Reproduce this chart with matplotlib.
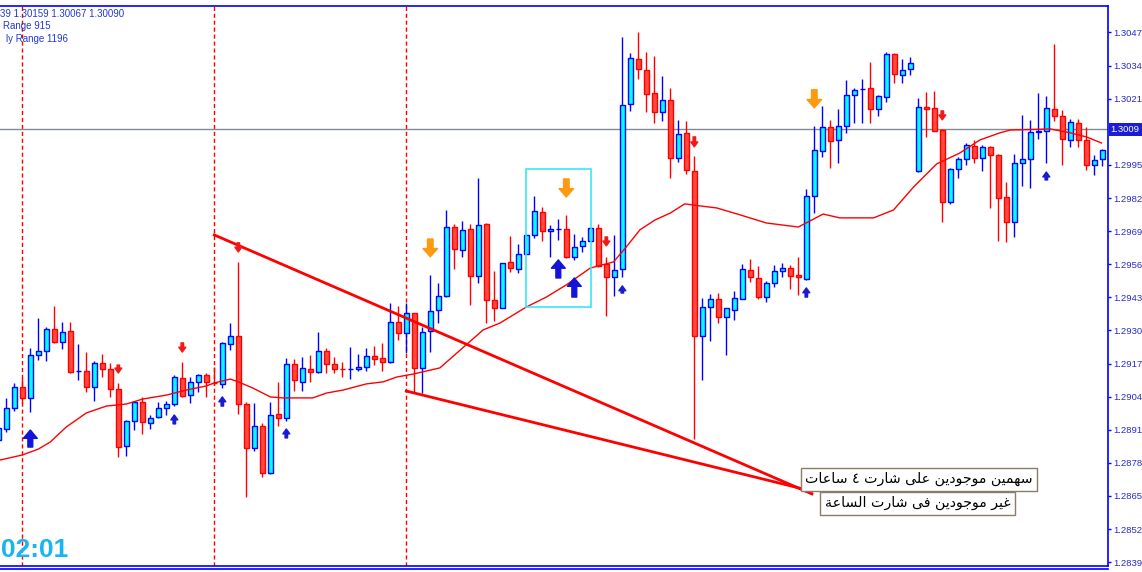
import numpy as np
import matplotlib
matplotlib.use('Agg')
import matplotlib.pyplot as plt
from matplotlib.patches import Rectangle
from matplotlib.lines import Line2D
from matplotlib.transforms import blended_transform_factory

# H1 candles, bar index -1 .. 137
bar_idx = list(range(-1, 138))
opens = [1.28870, 1.28913, 1.28995, 1.29078, 1.29035, 1.29204, 1.29219, 1.29306, 1.29255, 1.29298,
         1.29140, 1.29141, 1.29078, 1.29172, 1.29149, 1.29070, 1.28846, 1.28944, 1.29019, 1.28937,
         1.28960, 1.28995, 1.29011, 1.29113, 1.29046, 1.29098, 1.29125, 1.29094, 1.29090, 1.29247,
         1.29278, 1.29011, 1.28838, 1.28925, 1.28740, 1.28972, 1.28956, 1.29168, 1.29098, 1.29149,
         1.29137, 1.29219, 1.29168, 1.29149, 1.29147, 1.29149, 1.29156, 1.29200, 1.29192, 1.29176,
         1.29333, 1.29290, 1.29369, 1.29153, 1.29298, 1.29380, 1.29435, 1.29706, 1.29616, 1.29699,
         1.29514, 1.29718, 1.29420, 1.29388, 1.29569, 1.29541, 1.29600, 1.29675, 1.29765, 1.29691,
         1.29698, 1.29699, 1.29589, 1.29632, 1.29651, 1.29702, 1.29561, 1.29510, 1.29541, 1.30190,
         1.30366, 1.30323, 1.30233, 1.30158, 1.30205, 1.29977, 1.30076, 1.29926, 1.29278, 1.29392,
         1.29424, 1.29353, 1.29380, 1.29424, 1.29537, 1.29506, 1.29431, 1.29486, 1.29534, 1.29545,
         1.29518, 1.29502, 1.29828, 1.30005, 1.30099, 1.30048, 1.30103, 1.30225, 1.30247, 1.30252,
         1.30170, 1.30217, 1.30386, 1.30303, 1.30327, 1.29926, 1.30178, 1.30174, 1.30087, 1.29805,
         1.29934, 1.29973, 1.30025, 1.29977, 1.30021, 1.29989, 1.29824, 1.29726, 1.29958, 1.29973,
         1.30081, 1.30083, 1.30170, 1.30142, 1.30048, 1.30115, 1.30048, 1.29950, 1.29973]
highs = [1.28929, 1.29035, 1.29094, 1.29113, 1.29231, 1.29349, 1.29314, 1.29396, 1.29333, 1.29333,
         1.29247, 1.29215, 1.29180, 1.29208, 1.29172, 1.29094, 1.28948, 1.29023, 1.29039, 1.28968,
         1.29019, 1.29023, 1.29125, 1.29176, 1.29117, 1.29129, 1.29133, 1.29156, 1.29253, 1.29329,
         1.29569, 1.29019, 1.29015, 1.28937, 1.29019, 1.29098, 1.29192, 1.29188, 1.29196, 1.29204,
         1.29294, 1.29231, 1.29196, 1.29176, 1.29235, 1.29208, 1.29231, 1.29239, 1.29251, 1.29408,
         1.29396, 1.29408, 1.29370, 1.29314, 1.29518, 1.29486, 1.29773, 1.29718, 1.29730, 1.29718,
         1.29899, 1.29722, 1.29534, 1.29565, 1.29671, 1.29640, 1.29675, 1.29828, 1.29785, 1.29714,
         1.29738, 1.29754, 1.29679, 1.29667, 1.29702, 1.29718, 1.29589, 1.29675, 1.30453, 1.30390,
         1.30472, 1.30394, 1.30378, 1.30300, 1.30252, 1.30127, 1.30123, 1.29985, 1.29428, 1.29443,
         1.29447, 1.29388, 1.29455, 1.29561, 1.29581, 1.29553, 1.29494, 1.29557, 1.29565, 1.29557,
         1.29589, 1.29856, 1.30103, 1.30182, 1.30127, 1.30170, 1.30284, 1.30252, 1.30288, 1.30354,
         1.30225, 1.30394, 1.30390, 1.30366, 1.30374, 1.30213, 1.30237, 1.30241, 1.30091, 1.29938,
         1.29981, 1.30036, 1.30048, 1.30028, 1.30023, 1.29991, 1.29883, 1.29993, 1.30146, 1.30127,
         1.30233, 1.30221, 1.30425, 1.30166, 1.30131, 1.30131, 1.30099, 1.29989, 1.30013]
lows = [1.28862, 1.28901, 1.28984, 1.29015, 1.28980, 1.29184, 1.29180, 1.29251, 1.29227, 1.29133,
        1.29105, 1.29058, 1.29023, 1.29117, 1.29039, 1.28803, 1.28807, 1.28909, 1.28893, 1.28913,
        1.28956, 1.28968, 1.29003, 1.29039, 1.29015, 1.29058, 1.29039, 1.29086, 1.29074, 1.29223,
        1.28972, 1.28646, 1.28827, 1.28724, 1.28738, 1.28925, 1.28944, 1.29062, 1.29062, 1.29098,
        1.29133, 1.29133, 1.29133, 1.29117, 1.29109, 1.29141, 1.29141, 1.29164, 1.29141, 1.29172,
        1.29262, 1.29211, 1.29058, 1.29054, 1.29215, 1.29329, 1.29433, 1.29541, 1.29589, 1.29400,
        1.29486, 1.29329, 1.29337, 1.29388, 1.29530, 1.29526, 1.29600, 1.29663, 1.29651, 1.29589,
        1.29655, 1.29585, 1.29577, 1.29608, 1.29651, 1.29549, 1.29357, 1.29435, 1.29510, 1.30162,
        1.30288, 1.30158, 1.30115, 1.30123, 1.29899, 1.29962, 1.29915, 1.28874, 1.29105, 1.29259,
        1.29329, 1.29204, 1.29341, 1.29424, 1.29490, 1.29424, 1.29412, 1.29471, 1.29510, 1.29463,
        1.29439, 1.29500, 1.29761, 1.29981, 1.29938, 1.29958, 1.30076, 1.30115, 1.30115, 1.30115,
        1.30142, 1.30197, 1.30272, 1.30272, 1.30303, 1.29924, 1.30060, 1.30083, 1.29726, 1.29797,
        1.29899, 1.29950, 1.29958, 1.29926, 1.29781, 1.29651, 1.29647, 1.29667, 1.29867, 1.29860,
        1.30052, 1.29958, 1.30123, 1.29950, 1.30021, 1.30021, 1.29930, 1.29911, 1.29946]
closes = [1.28917, 1.28995, 1.29078, 1.29035, 1.29204, 1.29219, 1.29306, 1.29255, 1.29294, 1.29137,
          1.29141, 1.29078, 1.29172, 1.29149, 1.29070, 1.28842, 1.28944, 1.29019, 1.28940, 1.28956,
          1.28995, 1.29011, 1.29117, 1.29042, 1.29098, 1.29125, 1.29098, 1.29092, 1.29250, 1.29278,
          1.29011, 1.28838, 1.28925, 1.28740, 1.28968, 1.28956, 1.29168, 1.29105, 1.29153, 1.29137,
          1.29219, 1.29168, 1.29149, 1.29147, 1.29149, 1.29156, 1.29200, 1.29188, 1.29176, 1.29333,
          1.29290, 1.29369, 1.29153, 1.29294, 1.29376, 1.29435, 1.29706, 1.29620, 1.29695, 1.29514,
          1.29714, 1.29420, 1.29388, 1.29565, 1.29545, 1.29600, 1.29675, 1.29769, 1.29691, 1.29699,
          1.29700, 1.29589, 1.29628, 1.29651, 1.29702, 1.29553, 1.29510, 1.29537, 1.30186, 1.30370,
          1.30327, 1.30229, 1.30158, 1.30205, 1.29977, 1.30072, 1.29930, 1.29278, 1.29392, 1.29424,
          1.29353, 1.29388, 1.29428, 1.29541, 1.29510, 1.29431, 1.29486, 1.29534, 1.29545, 1.29514,
          1.29510, 1.29828, 1.30009, 1.30099, 1.30044, 1.30103, 1.30225, 1.30245, 1.30249, 1.30170,
          1.30221, 1.30386, 1.30307, 1.30323, 1.30351, 1.30178, 1.30170, 1.30083, 1.29805, 1.29934,
          1.29973, 1.30028, 1.29977, 1.30021, 1.29989, 1.29820, 1.29726, 1.29958, 1.29973, 1.30080,
          1.30083, 1.30174, 1.30142, 1.30052, 1.30119, 1.30048, 1.29950, 1.29970, 1.30009]

# red moving average
ma_idx = [-0.8, 2.0, 4.0, 5.5, 7.5, 10.0, 12.5, 15.0, 17.1, 20.0, 22.5, 25.0, 26.0, 28.0, 29.0,
          30.8, 33.0, 34.6, 38.3, 40.0, 42.1, 45.0, 47.1, 48.8, 50.9, 54.2, 59.6, 61.7, 65.0, 67.5,
          70.0, 73.0, 75.9, 77.5, 79.2, 81.1, 83.0, 84.8, 86.7, 88.8, 91.7, 95.0, 99.0, 102.1, 104.2,
          108.4, 110.9, 113.4, 116.3, 119.2, 121.7, 124.2, 125.5, 130.5, 133.0, 135.0, 136.9]
ma_val = [1.28791, 1.28811, 1.28834, 1.28862, 1.28921, 1.28976, 1.29003, 1.29011, 1.29031, 1.29046,
          1.29066, 1.29082, 1.29094, 1.29109, 1.29098, 1.29074, 1.29039, 1.29035, 1.29035, 1.29054,
          1.29066, 1.29090, 1.29098, 1.29117, 1.29129, 1.29153, 1.29302, 1.29329, 1.29392, 1.29431,
          1.29479, 1.29545, 1.29569, 1.29628, 1.29695, 1.29734, 1.29761, 1.29797, 1.29789, 1.29781,
          1.29754, 1.29722, 1.29706, 1.29757, 1.29742, 1.29742, 1.29773, 1.29863, 1.29954, 1.29997,
          1.30048, 1.30076, 1.30087, 1.30091, 1.30076, 1.30060, 1.30036]

day_breaks = [2, 26, 50]
bid = 1.30090
price_ticks = [1.3047, 1.3034, 1.3021, 1.2995, 1.2982, 1.2969, 1.2956, 1.2943, 1.2930,
               1.2917, 1.2904, 1.2891, 1.2878, 1.2865, 1.2852, 1.2839]

# hand drawn trend lines (bar, price)
upper_line_idx = [26, 100.7]
upper_line_px = [1.29675, 1.28658]
lower_line_idx = [50, 100.7]
lower_line_px = [1.29062, 1.28669]

# cyan rectangle
box_idx = [64.95, 73.05]
box_px = [1.29392, 1.29934]

# signal arrows: bar, tail price, head price
big_up_idx = [3, 69, 71]
big_up_tail = [1.28842, 1.29506, 1.29431]
big_up_head = [1.28909, 1.29577, 1.29506]
small_up_idx = [21, 27, 35, 77, 100, 130]
small_up_tail = [1.28933, 1.29003, 1.28878, 1.29447, 1.29431, 1.29891]
small_up_head = [1.28968, 1.29039, 1.28913, 1.29475, 1.29467, 1.29922]
orange_dn_idx = [53, 70, 101]
orange_dn_tail = [1.29659, 1.29895, 1.30245]
orange_dn_head = [1.29589, 1.29824, 1.30174]
red_dn_idx = [14, 22, 29, 75, 86, 117]
red_dn_tail = [1.29164, 1.29251, 1.29644, 1.29667, 1.30060, 1.30162]
red_dn_head = [1.29133, 1.29215, 1.29608, 1.29632, 1.30021, 1.30127]

note_1 = 'سهمين موجودين على شارت ٤ ساعات'
note_2 = 'غير موجودين فى شارت الساعة'

# minimal arabic shaping (no reshaper lib available)
FORMS = {
    'ا': ('\ufe8d', '\ufe8e', None, None),
    'ة': ('\ufe93', '\ufe94', None, None),
    'ت': ('\ufe95', '\ufe96', '\ufe97', '\ufe98'),
    'ج': ('\ufe9d', '\ufe9e', '\ufe9f', '\ufea0'),
    'د': ('\ufea9', '\ufeaa', None, None),
    'ر': ('\ufead', '\ufeae', None, None),
    'س': ('\ufeb1', '\ufeb2', '\ufeb3', '\ufeb4'),
    'ش': ('\ufeb5', '\ufeb6', '\ufeb7', '\ufeb8'),
    'ع': ('\ufec9', '\ufeca', '\ufecb', '\ufecc'),
    'غ': ('\ufecd', '\ufece', '\ufecf', '\ufed0'),
    'ف': ('\ufed1', '\ufed2', '\ufed3', '\ufed4'),
    'ل': ('\ufedd', '\ufede', '\ufedf', '\ufee0'),
    'م': ('\ufee1', '\ufee2', '\ufee3', '\ufee4'),
    'ن': ('\ufee5', '\ufee6', '\ufee7', '\ufee8'),
    'ه': ('\ufee9', '\ufeea', '\ufeeb', '\ufeec'),
    'و': ('\ufeed', '\ufeee', None, None),
    'ى': ('\ufeef', '\ufef0', None, None),
    'ي': ('\ufef1', '\ufef2', '\ufef3', '\ufef4'),
}


def shape_arabic(s):
    out = []
    for i, ch in enumerate(s):
        if ch not in FORMS:
            out.append(ch)
            continue
        f = FORMS[ch]
        prev_join = i > 0 and s[i - 1] in FORMS and FORMS[s[i - 1]][2] is not None
        next_join = i < len(s) - 1 and s[i + 1] in FORMS and f[2] is not None
        if prev_join and next_join:
            out.append(f[3])
        elif prev_join:
            out.append(f[1])
        elif next_join:
            out.append(f[2])
        else:
            out.append(f[0])
    return ''.join(out)[::-1]


plt.rcParams['font.family'] = ['Liberation Sans', 'DejaVu Sans']

W, H = 1142, 572
fig = plt.figure(figsize=(W / 100, H / 100), dpi=100)
fig.patch.set_facecolor('white')
ax = fig.add_axes([0, 6 / H, 1108 / W, 560 / H])
ax.set_xlim(-0.79, 137.71)
ax.set_ylim(1.28375, 1.30574)

idx = np.array(bar_idx)
o = np.array(opens)
hi = np.array(highs)
lo = np.array(lows)
c = np.array(closes)
up = c >= o

ax.vlines(idx[up], lo[up], hi[up], color='#0000ff', lw=1, zorder=3)
ax.vlines(idx[~up], lo[~up], hi[~up], color='#ff0000', lw=1, zorder=3)
ax.bar(idx[up], np.maximum(c[up] - o[up], 0.00002), bottom=o[up], width=0.62,
       color='#00ffff', edgecolor='#0000ff', lw=1, zorder=4)
ax.bar(idx[~up], np.maximum(o[~up] - c[~up], 0.00002), bottom=c[~up], width=0.62,
       color='#ff4a3d', edgecolor='#ff0000', lw=1, zorder=4)

ax.plot(ma_idx, ma_val, color='#ff0000', lw=1, zorder=5)

for d in day_breaks:
    ax.axvline(d, color='#ff0000', lw=1, ls=(0, (3, 2)), zorder=2)

ax.axhline(bid, color='#808a96', lw=1, zorder=2)

ax.plot(upper_line_idx, upper_line_px, color='#ff0000', lw=2, zorder=6)
ax.plot(lower_line_idx, lower_line_px, color='#ff0000', lw=2, zorder=6)

ax.add_patch(Rectangle((box_idx[0], box_px[0]), box_idx[1] - box_idx[0], box_px[1] - box_px[0],
                       fill=False, edgecolor='#3ae6f2', lw=1.2, zorder=6))


def draw_arrows(xs, tails, heads, color, hw, hl, tw):
    for x, t, h in zip(xs, tails, heads):
        ax.annotate('', xy=(x, h), xytext=(x, t),
                    arrowprops=dict(arrowstyle=f'simple,head_length={hl},head_width={hw},tail_width={tw}',
                                    color=color, shrinkA=0, shrinkB=0, mutation_scale=1),
                    zorder=7)


draw_arrows(big_up_idx, big_up_tail, big_up_head, '#1414d8', 10, 6, 3.5)
draw_arrows(small_up_idx, small_up_tail, small_up_head, '#1a1ad0', 5, 3.5, 1.8)
draw_arrows(orange_dn_idx, orange_dn_tail, orange_dn_head, '#ff9a10', 10.5, 6, 4)
draw_arrows(red_dn_idx, red_dn_tail, red_dn_head, '#f01818', 5, 3.5, 1.8)

# notes
box_kw = dict(boxstyle='square,pad=0.3', facecolor='white', edgecolor='#8a7b6a', lw=1)
ax.text(0.829, 0.155, shape_arabic(note_1), transform=ax.transAxes, ha='center', va='center',
        fontsize=10.2, family=['DejaVu Sans'], color='black', bbox=box_kw, zorder=8)
ax.text(0.828, 0.112, shape_arabic(note_2), transform=ax.transAxes, ha='center', va='center',
        fontsize=10.2, family=['DejaVu Sans'], color='black', bbox=box_kw, zorder=9)

# axes frame
ax.spines['left'].set_visible(False)
for side in ['top', 'right', 'bottom']:
    ax.spines[side].set_color('#0000ff')
    ax.spines[side].set_linewidth(1.2)
fig.add_artist(Line2D([0, 1108 / W], [3.5 / H, 3.5 / H], color='#0000ff', lw=1.2))

ax.set_xticks([])
ax.yaxis.tick_right()
ax.set_yticks(price_ticks)
ax.set_yticklabels([f'{v:.4f}' for v in price_ticks])
ax.tick_params(axis='y', direction='out', length=2.2, width=1, color='#0000ff',
               labelsize=6.8, labelcolor='#2a2ad0', pad=1.4)

tr = blended_transform_factory(ax.transAxes, ax.transData)
ax.text(1.0025, bid, f'{bid:.4f}', transform=tr, ha='left', va='center', fontsize=6.8,
        color='white', bbox=dict(boxstyle='square,pad=0.2', facecolor='#1c1cd2', edgecolor='none'),
        clip_on=False, zorder=9)

# header texts, as much as the terminal shows of them
fig.text(0.5 / W, 1 - 16.7 / H, '39 1.30159 1.30067 1.30090', ha='left', va='baseline',
         fontsize=7, color='#2238d8')
fig.text(3 / W, 1 - 29.3 / H, 'Range 915', ha='left', va='baseline',
         fontsize=7, color='#2238d8')
fig.text(6 / W, 1 - 41.7 / H, 'ly Range 1196', ha='left', va='baseline',
         fontsize=7, color='#2238d8')

fig.text(0.5 / W, 1 - 557 / H, '02:01', ha='left', va='baseline', fontsize=19,
         fontweight='bold', color='#18b6f0')

fig.savefig('out.png', dpi=100)
